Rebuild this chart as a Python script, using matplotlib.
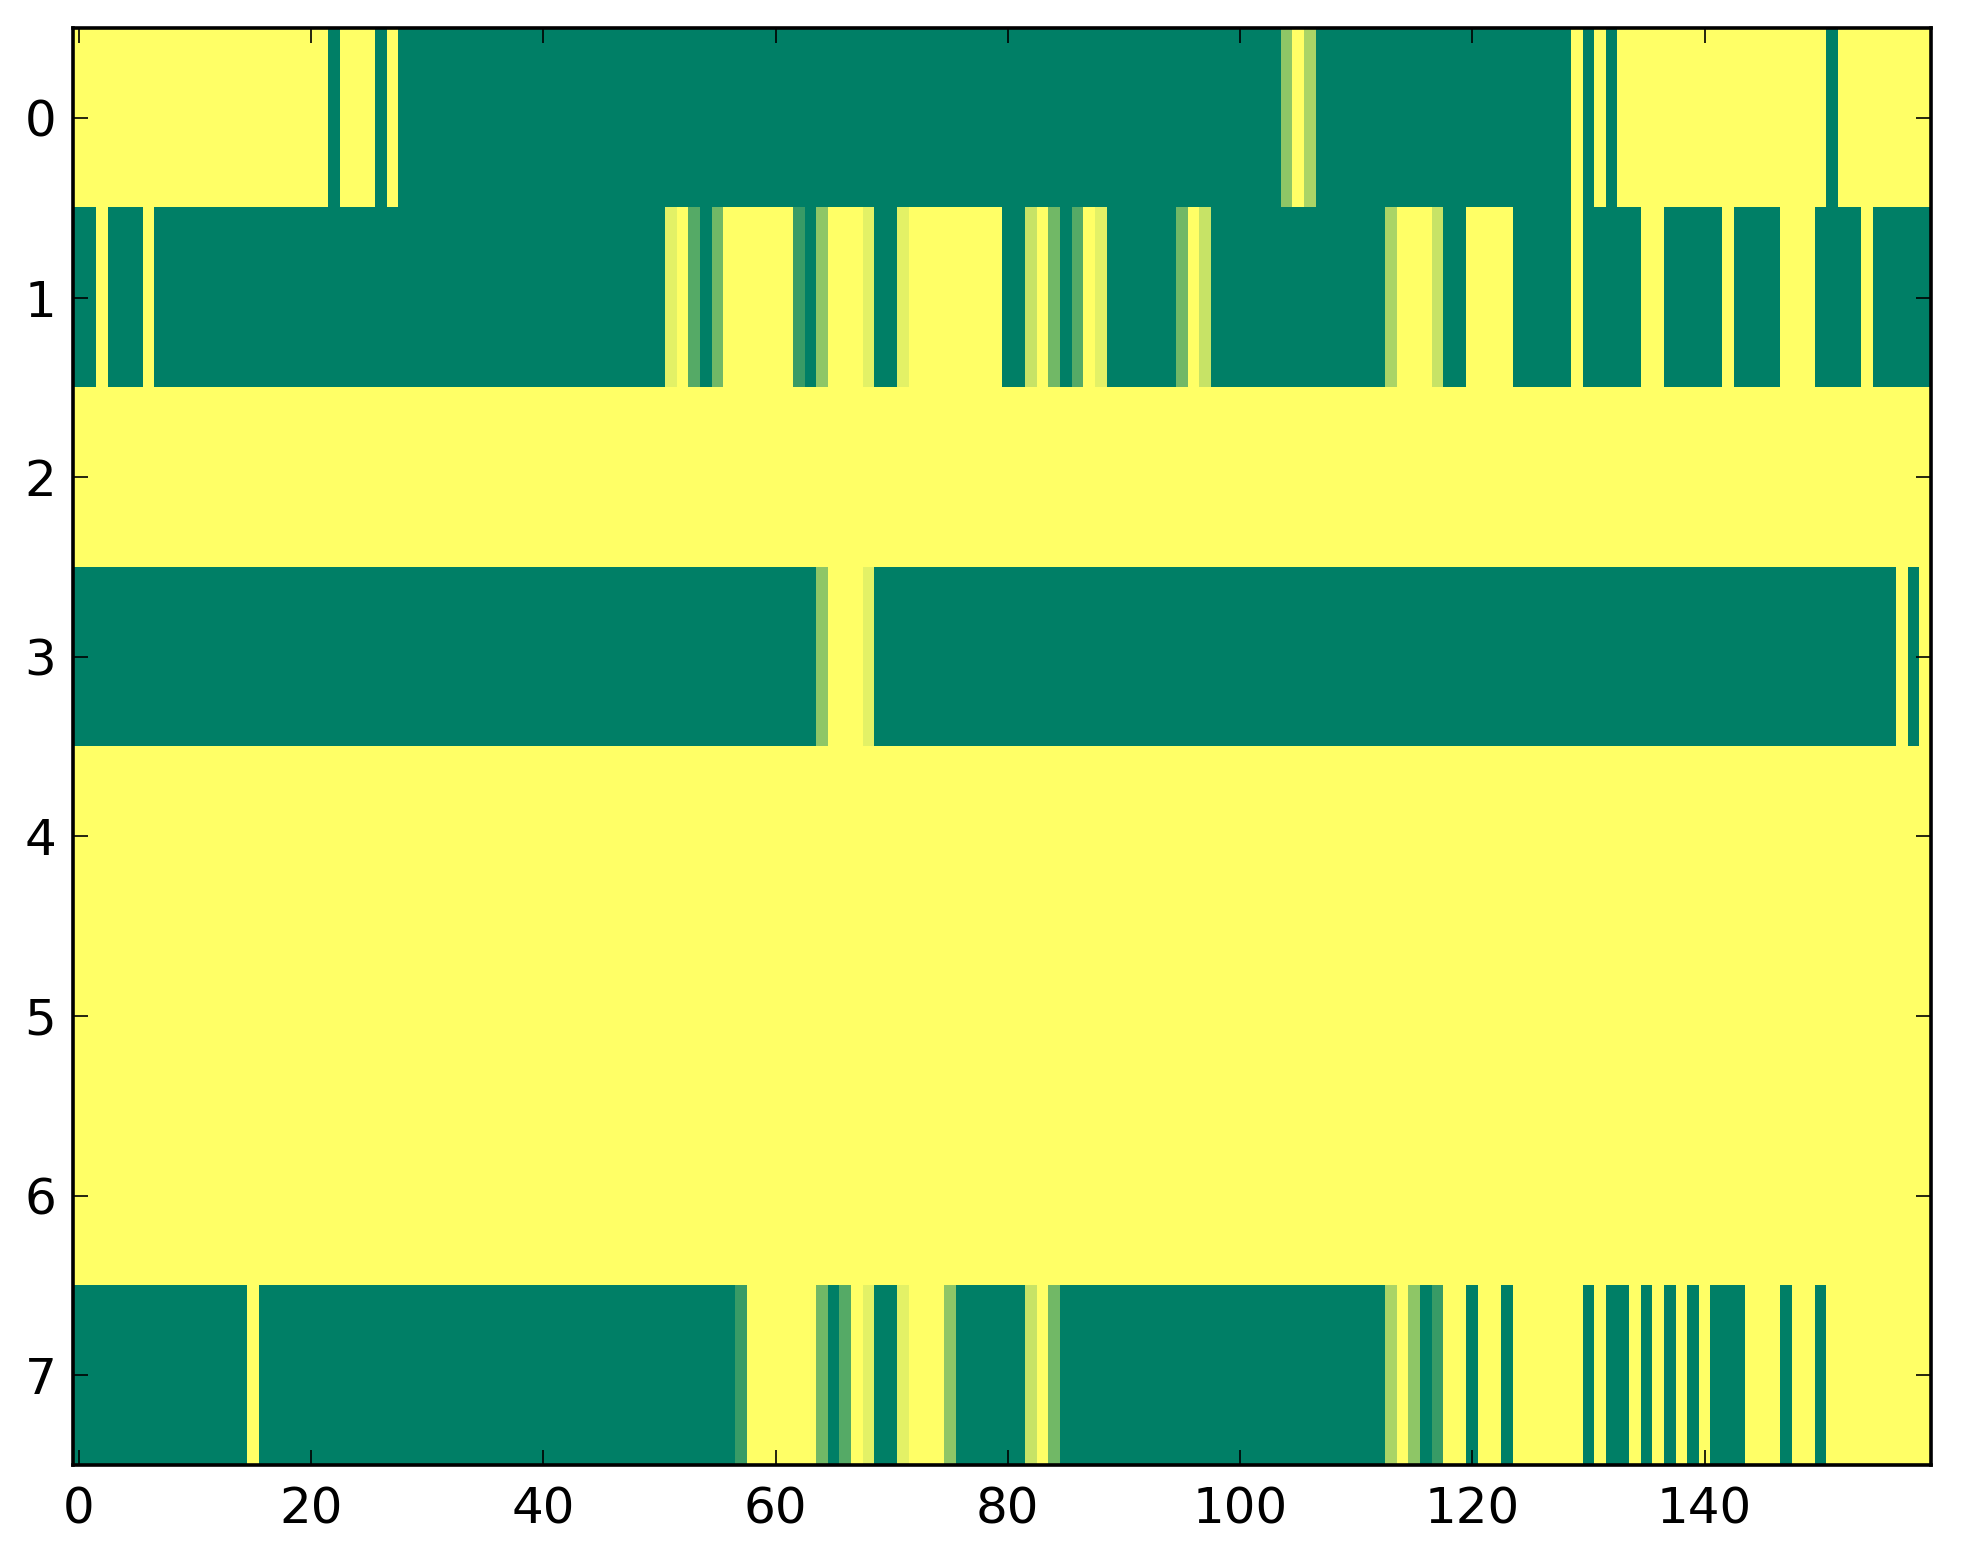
import numpy as np
import matplotlib
matplotlib.use('Agg')
import matplotlib.pyplot as plt

# each row stored as (ninths, run length) pairs, 160 columns per row
row0 = [(9, 22), (0, 1), (9, 3), (0, 1), (9, 1), (0, 76), (5, 1), (9, 1), (6, 1),
        (0, 22), (9, 1), (0, 1), (9, 1), (0, 1), (9, 18), (0, 1), (9, 8)]
row1 = [(0, 2), (9, 1), (0, 3), (9, 1), (0, 44), (8, 1), (9, 1), (3, 1), (0, 1), (4, 1),
        (9, 6), (2, 1), (0, 1), (5, 1), (9, 3), (8, 1), (0, 2), (8, 1), (9, 8), (0, 2),
        (7, 1), (9, 1), (4, 1), (0, 1), (3, 1), (9, 1), (8, 1), (0, 6), (4, 1), (9, 1),
        (7, 1), (0, 15), (6, 1), (9, 3), (7, 1), (0, 2), (9, 4), (0, 5), (9, 1), (0, 5),
        (9, 2), (0, 5), (9, 1), (0, 4), (9, 3), (0, 4), (9, 1), (0, 5)]
row2 = [(9, 160)]
row3 = [(0, 64), (5, 1), (9, 3), (8, 1), (0, 88), (9, 1), (0, 1), (9, 1)]
row4 = [(9, 160)]
row5 = [(9, 160)]
row6 = [(9, 160)]
row7 = [(0, 15), (9, 1), (0, 41), (2, 1), (9, 6), (4, 1), (0, 1), (3, 1), (9, 1), (8, 1),
        (0, 2), (8, 1), (9, 3), (5, 1), (0, 6), (7, 1), (9, 1), (4, 1), (0, 28), (6, 1),
        (9, 1), (5, 1), (0, 1), (2, 1), (9, 2), (0, 1), (9, 2), (0, 1), (9, 6), (0, 1),
        (9, 1), (0, 2), (9, 1), (0, 1), (9, 1), (0, 1), (9, 1), (0, 1), (9, 1), (0, 3),
        (9, 3), (0, 1), (9, 2), (0, 1), (9, 9)]

rows = [row0, row1, row2, row3, row4, row5, row6, row7]
xticks = [0, 20, 40, 60, 80, 100, 120, 140]
yticks = [0, 1, 2, 3, 4, 5, 6, 7]


def expand(runs):
    vals = np.repeat([v for v, n in runs], [n for v, n in runs]) / 9.0
    assert len(vals) == 160, len(vals)
    return vals


grid = np.vstack([expand(r) for r in rows])

fig = plt.figure(figsize=(19.63, 15.64), dpi=100)
ax = fig.add_axes([0.0372, 0.0633, 0.9465, 0.9187])
ax.imshow(grid, cmap='summer', vmin=0, vmax=1, aspect='auto', interpolation='nearest')

ax.set_xticks(xticks)
ax.set_yticks(yticks)
ax.tick_params(direction='in', top=True, right=True, length=11, width=1.2,
               labelsize=36)
ax.tick_params(axis='x', pad=15)
ax.tick_params(axis='y', pad=12)
for s in ax.spines.values():
    s.set_linewidth(2.6)

plt.savefig('out.png', dpi=100)
